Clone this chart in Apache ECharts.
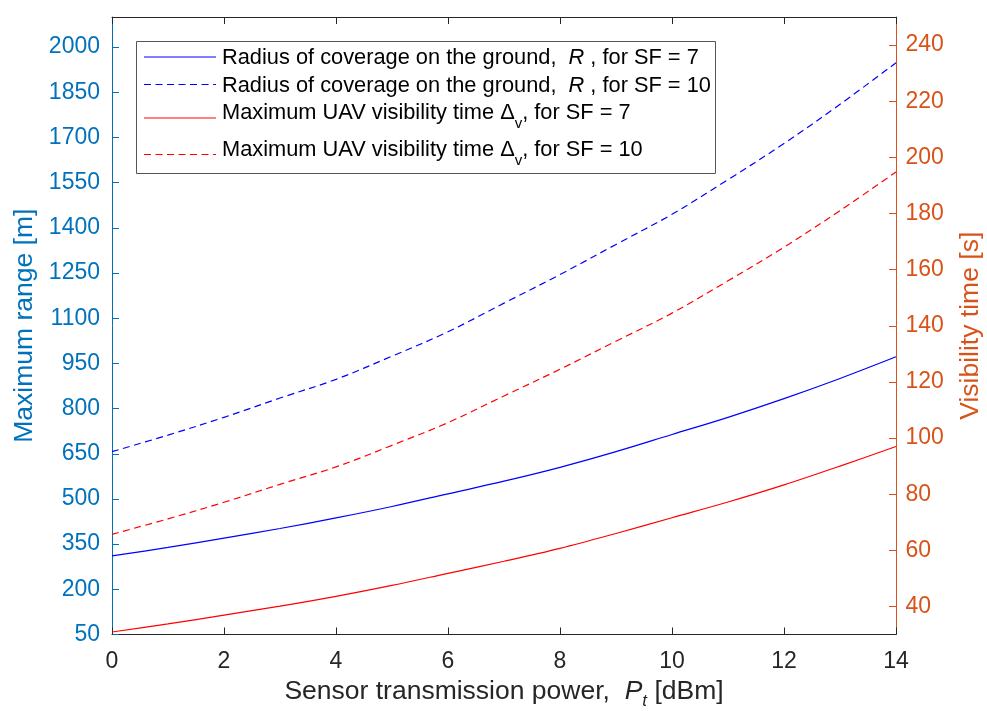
<!DOCTYPE html>
<html>
<head>
<meta charset="utf-8">
<script src="https://cdn.jsdelivr.net/npm/echarts@6/dist/echarts.min.js"></script>
<style>
html,body{margin:0;padding:0;background:#fff;}
#chart{width:987px;height:711px;}
</style>
</head>
<body>
<div id="chart"></div>
<script>
// ---- data ----
const powerDbm = [0, 1, 2, 3, 4, 5, 6, 7, 8, 9, 10, 11, 12, 13, 14];
const rangeSF7 = [311, 339, 370, 402, 437, 475, 517, 559, 605, 657, 714, 771, 833, 900, 972];
const rangeSF10 = [657, 712, 771, 835, 897, 974, 1055, 1150, 1245, 1345, 1445, 1560, 1680, 1810, 1948];
const timeSF7 = [30.9, 33.8, 36.9, 40.1, 43.6, 47.5, 51.8, 56.1, 60.7, 66.0, 71.6, 77.2, 83.3, 90.0, 97.0];
const timeSF10 = [65.7, 71.2, 77.1, 83.5, 89.7, 97.4, 105.5, 115.0, 124.5, 134.5, 144.5, 156.0, 168.0, 181.0, 194.8];

const rangeTicks = [50, 200, 350, 500, 650, 800, 950, 1100, 1250, 1400, 1550, 1700, 1850, 2000];
const timeTicks = [40, 60, 80, 100, 120, 140, 160, 180, 200, 220, 240];
const powerTicks = [0, 2, 4, 6, 8, 10, 12, 14];

const seriesNames = [
  'Radius of coverage on the ground, R, for SF = 7',
  'Radius of coverage on the ground, R, for SF = 10',
  'Maximum UAV visibility time Δv, for SF = 7',
  'Maximum UAV visibility time Δv, for SF = 10'
];
const legendRich = [
  '{a|Radius of coverage on the ground,  }{i|R}{a| , for SF = 7}',
  '{a|Radius of coverage on the ground,  }{i|R}{a| , for SF = 10}',
  '{a|Maximum UAV visibility time Δ}{s|v}{a|, for SF = 7}',
  '{a|Maximum UAV visibility time Δ}{s|v}{a|, for SF = 10}'
];

// ---- styling ----
const FONT = 'Liberation Sans';
const BLUE = 'rgb(0,0,255)', RED = 'rgb(255,0,0)';
const LEFT_C = '#0072BD', RIGHT_C = '#D95319', AX_C = '#262626';
const DASH = [7, 4.5];
const seriesColors = [BLUE, BLUE, RED, RED];
const seriesDashed = [false, true, false, true];

function richStyles(size, subSize, color, lh) {
  return {
    a: {fontFamily: FONT, fontSize: size, lineHeight: lh, verticalAlign: 'top', color: color, fill: color},
    i: {fontFamily: FONT, fontSize: size, fontStyle: 'italic', lineHeight: lh, verticalAlign: 'top', color: color, fill: color},
    s: {fontFamily: FONT, fontSize: subSize, lineHeight: 16, verticalAlign: 'bottom', color: color, fill: color},
    si: {fontFamily: FONT, fontSize: subSize, fontStyle: 'italic', lineHeight: 16, verticalAlign: 'bottom', color: color, fill: color}
  };
}

// legend (drawn as graphic)
const legendRows = [57, 84.5, 111.5, 148.5];
const legendIconRows = [57, 84.5, 118, 154.5];
const graphic = [{
  type: 'rect', id: 'legend-box', z: 100,
  shape: {x: 136.5, y: 41.5, width: 579, height: 132},
  style: {fill: '#ffffff', stroke: '#555555', lineWidth: 1}
}];
for (let k = 0; k < 4; k++) {
  const ls = {stroke: seriesColors[k], fill: null, lineWidth: 1.2};
  if (seriesDashed[k]) ls.lineDash = DASH;
  graphic.push({
    type: 'polyline', id: 'legend-icon-' + k, z: 102,
    shape: {points: [[144, legendIconRows[k]], [216, legendIconRows[k]]]},
    style: ls
  });
  graphic.push({
    type: 'text', id: 'legend-text-' + k, z: 101,
    x: 222, y: legendRows[k] - 10,
    style: {
      text: legendRich[k],
      fill: '#000', verticalAlign: 'top', align: 'left',
      rich: richStyles(21.8, 15, '#000', 30)
    }
  });
}

const series = [rangeSF7, rangeSF10, timeSF7, timeSF10].map((vals, k) => ({
  type: 'line',
  name: seriesNames[k],
  xAxisIndex: 0,
  yAxisIndex: k < 2 ? 0 : 1,
  data: powerDbm.map((x, i) => [x, vals[i]]),
  symbol: 'none',
  showSymbol: false,
  smooth: 0.35,
  lineStyle: {color: seriesColors[k], width: 1.2, type: seriesDashed[k] ? DASH : 'solid'},
  itemStyle: {color: seriesColors[k]}
}));

const plain = v => String(v);

const option = {
  animation: false,
  backgroundColor: '#ffffff',
  grid: {left: 112, right: 91, top: 17, bottom: 76.5, show: false,
         containLabel: false, outerBoundsMode: 'none'},
  xAxis: [{
    type: 'value', position: 'bottom', min: 0, max: 14, interval: 2,
    axisLine: {show: true, onZero: false, lineStyle: {color: AX_C, width: 1}},
    axisTick: {show: true, inside: true, length: 7, lineStyle: {color: AX_C}},
    axisLabel: {color: AX_C, fontFamily: FONT, fontSize: 23, margin: 16,
      customValues: powerTicks, formatter: plain},
    splitLine: {show: false},
    name: '{a|Sensor transmission power,  }{i|P}{si|t}{a| [dBm]}',
    nameLocation: 'middle', nameGap: 36,
    nameTextStyle: {color: AX_C, fontFamily: FONT, fontSize: 26.5, rich: richStyles(26.5, 17, AX_C, 31)}
  }, {
    type: 'value', position: 'top', min: 0, max: 14, interval: 2,
    axisLine: {show: true, onZero: false, lineStyle: {color: AX_C, width: 1}},
    axisTick: {show: true, inside: true, length: 7, lineStyle: {color: AX_C}},
    axisLabel: {show: false},
    splitLine: {show: false}
  }],
  yAxis: [{
    type: 'value', position: 'left', min: 50, max: 2100,
    axisLine: {show: true, onZero: false, lineStyle: {color: LEFT_C, width: 1}},
    axisTick: {show: true, inside: true, length: 7, lineStyle: {color: LEFT_C}, customValues: rangeTicks},
    axisLabel: {color: LEFT_C, fontFamily: FONT, fontSize: 23, margin: 12, customValues: rangeTicks, formatter: plain},
    splitLine: {show: false},
    name: 'Maximum range [m]',
    nameLocation: 'middle', nameGap: 67,
    nameTextStyle: {color: LEFT_C, fontFamily: FONT, fontSize: 26.5}
  }, {
    type: 'value', position: 'right', min: 30, max: 250,
    axisLine: {show: true, onZero: false, lineStyle: {color: RIGHT_C, width: 1}},
    axisTick: {show: true, inside: true, length: 7, lineStyle: {color: RIGHT_C}, customValues: timeTicks},
    axisLabel: {color: RIGHT_C, fontFamily: FONT, fontSize: 23, margin: 9.5, customValues: timeTicks, formatter: plain},
    splitLine: {show: false},
    name: 'Visibility time [s]',
    nameLocation: 'middle', nameGap: 61,
    nameTextStyle: {color: RIGHT_C, fontFamily: FONT, fontSize: 26.5}
  }],
  graphic: graphic,
  series: series
};

const chart = echarts.init(document.getElementById('chart'), null, {renderer: 'canvas'});
chart.setOption(option);
</script>
</body>
</html>
